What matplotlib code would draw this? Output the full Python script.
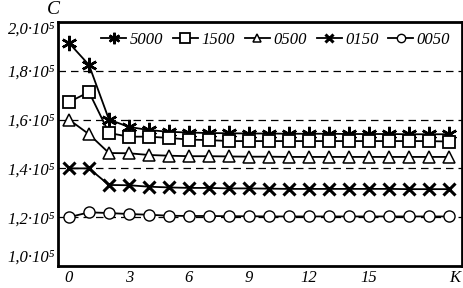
import numpy as np
import matplotlib.pyplot as plt

plt.rcParams['font.family'] = ['Liberation Serif', 'DejaVu Serif']

k = np.arange(20)
c5000 = [1.914, 1.824, 1.600, 1.570, 1.557, 1.550, 1.547, 1.545, 1.544, 1.543, 1.543,
         1.542, 1.542, 1.542, 1.541, 1.541, 1.541, 1.540, 1.540, 1.540]
c1500 = [1.672, 1.713, 1.545, 1.530, 1.530, 1.525, 1.518, 1.516, 1.512, 1.512, 1.512,
         1.512, 1.512, 1.512, 1.512, 1.512, 1.512, 1.512, 1.512, 1.510]
c0500 = [1.600, 1.540, 1.463, 1.462, 1.455, 1.452, 1.450, 1.450, 1.449, 1.448, 1.448,
         1.447, 1.447, 1.447, 1.447, 1.447, 1.447, 1.447, 1.447, 1.447]
c0150 = [1.400, 1.400, 1.332, 1.331, 1.325, 1.322, 1.320, 1.320, 1.318, 1.318, 1.317,
         1.316, 1.316, 1.316, 1.316, 1.316, 1.316, 1.315, 1.315, 1.315]
c0050 = [1.200, 1.220, 1.217, 1.213, 1.210, 1.206, 1.205, 1.205, 1.204, 1.204, 1.203,
         1.203, 1.203, 1.203, 1.203, 1.203, 1.203, 1.203, 1.203, 1.203]
labels = ['5000', '1500', '0500', '0150', '0050']
yticks = [1.0, 1.2, 1.4, 1.6, 1.8, 2.0]
ytick_labels = ['1,0·10⁵', '1,2·10⁵', '1,4·10⁵', '1,6·10⁵', '1,8·10⁵', '2,0·10⁵']
xticks = [0, 3, 6, 9, 12, 15, 19.3]
xtick_labels = ['0', '3', '6', '9', '12', '15', 'K']

fig = plt.figure(figsize=(4.64, 2.88), dpi=100)
ax = fig.add_axes([0.125, 0.0764, 0.8707, 0.8472])

asterisk = (6, 2, 0)
styles = [
    dict(marker=asterisk, ms=11, mew=1.8),
    dict(marker='s', ms=9, mfc='white', mew=1.3),
    dict(marker='^', ms=8, mfc='white', mew=1.1),
    dict(marker='x', ms=8, mew=2.2),
    dict(marker='o', ms=8, mfc='white', mew=1.0),
]
for vals, lab, st in zip([c5000, c1500, c0500, c0150, c0050], labels, styles):
    ax.plot(k, vals, color='black', lw=1.3, label=lab, **st)

for y in [1.2, 1.4, 1.6, 1.8]:
    ax.axhline(y, color='black', lw=0.9, dashes=(6, 4), zorder=0)

ax.set_xlim(-0.55, 19.65)
ax.set_ylim(1.0, 2.0)
ax.set_yticks(yticks)
ax.set_yticklabels(ytick_labels, style='italic', fontsize=12)
ylabs = ax.get_yticklabels()
ylabs[0].set_va('bottom')
ylabs[-1].set_va('top')
ax.set_xticks(xticks)
ax.set_xticklabels(xtick_labels, style='italic', fontsize=12)
ax.tick_params(length=0, pad=2)
ax.tick_params(axis='x', pad=3)
for sp in ax.spines.values():
    sp.set_linewidth(2)

ax.text(-0.012, 1.05, 'C', transform=ax.transAxes, style='italic', fontsize=14,
        ha='center', va='center')

ax.legend(loc='upper left', bbox_to_anchor=(0.09, 0.985), ncol=5, frameon=False,
          handlelength=1.5, handletextpad=0.2, columnspacing=0.6, borderaxespad=0,
          prop={'style': 'italic', 'size': 12}, markerscale=0.75)

fig.savefig('out.png', dpi=100)
